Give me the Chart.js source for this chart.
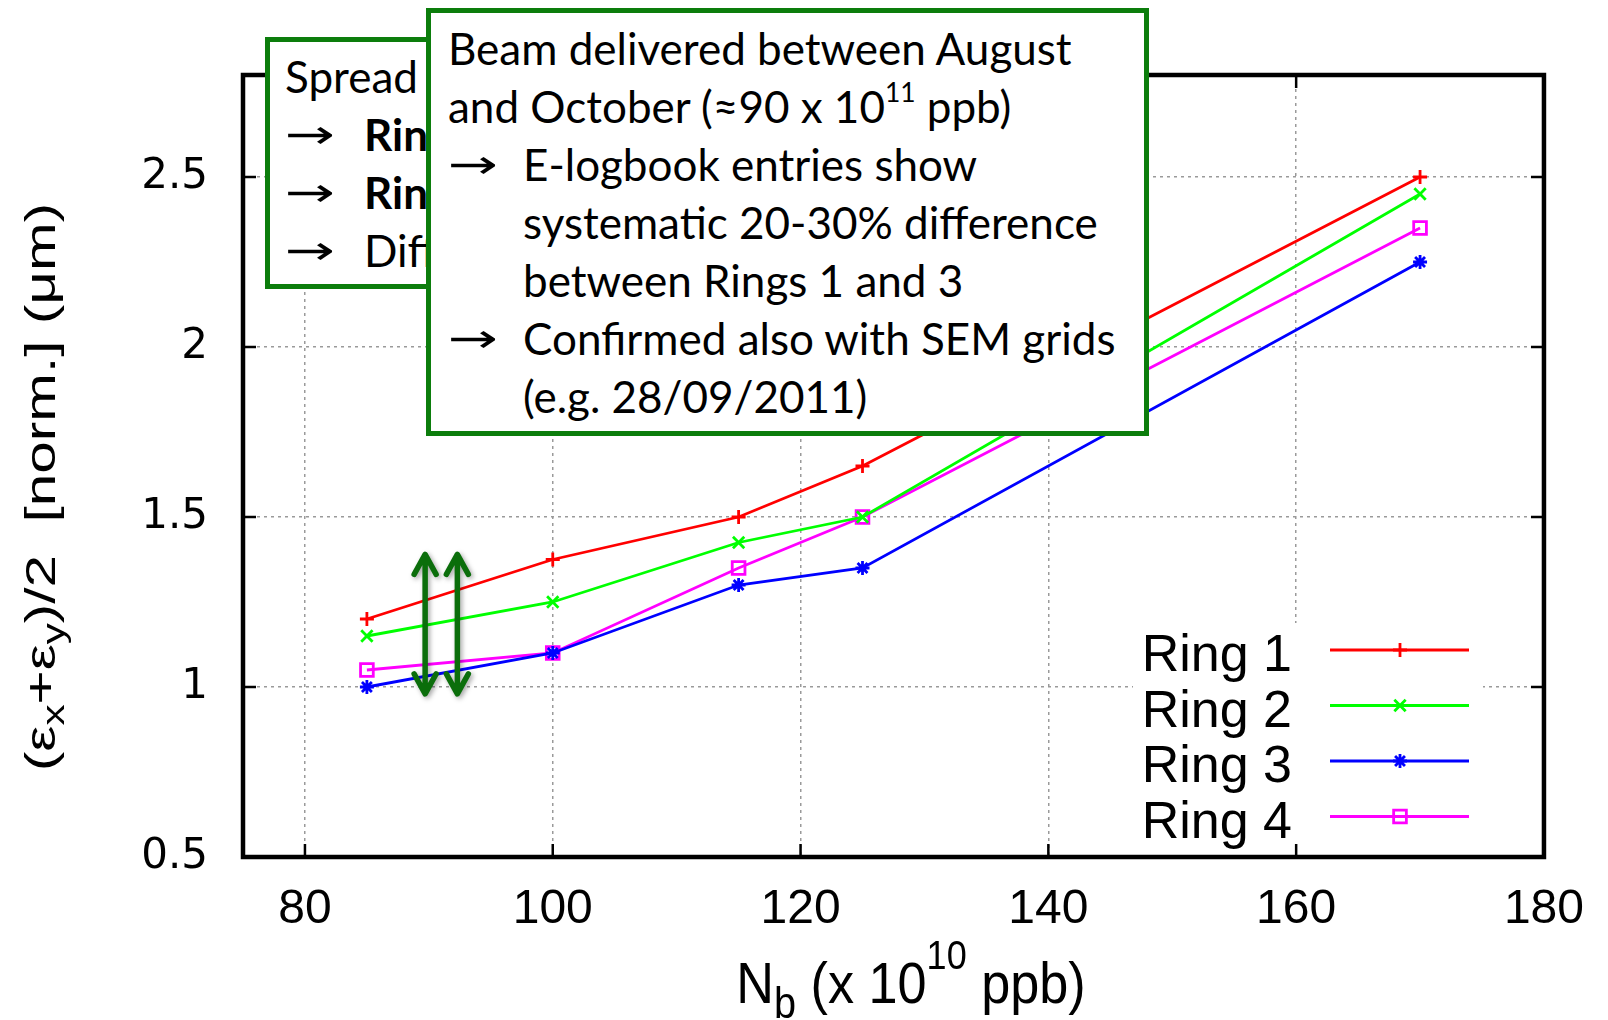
<!DOCTYPE html>
<html>
<head>
<meta charset="utf-8">
<script src="https://cdn.jsdelivr.net/npm/chart.js@4.4.1/dist/chart.umd.min.js"></script>
<style>
  html, body { margin: 0; padding: 0; background: #fff; }
  #wrap { position: relative; width: 1608px; height: 1020px; overflow: hidden; }
  #chart { position: absolute; left: 0; top: 0; }
  .note {
    position: absolute; background: #fff; border: 5px solid #0c7d0c; box-sizing: border-box;
    font-family: Lato, "Open Sans", sans-serif; font-size: 44px; line-height: 58px;
    color: #000; overflow: hidden; white-space: nowrap;
  }
  .note .item { position: relative; }
  .note .arr {
    position: absolute; left: 0; top: 0; font-family: "DejaVu Sans", sans-serif; font-weight: normal;
    font-size: 40px; display: inline-block; transform: scaleX(1.5); transform-origin: 0 50%;
  }
  .note sup { font-size: 0.6em; line-height: 0; vertical-align: 0.8em; }
  #note1 { left: 265px; top: 37px; width: 220px; height: 252px; padding: 5px 0 0 15px; }
  #note1 .item { padding-left: 79px; }
  #note2 { left: 426px; top: 8px; width: 723px; height: 428px; padding: 6px 0 0 17px; }
  #note2 .item { padding-left: 75px; }
</style>
</head>
<body>
<div id="wrap">
  <canvas id="chart" width="1608" height="1020"></canvas>
  <div class="note" id="note1">
    <div>Spread</div>
    <div class="item"><span class="arr">→</span><b>Ring</b></div>
    <div class="item"><span class="arr">→</span><b>Ring</b></div>
    <div class="item"><span class="arr">→</span>Diff</div>
  </div>
  <div class="note" id="note2">
    <div>Beam delivered between August</div>
    <div>and October (≈90 x 10<sup>11</sup> ppb)</div>
    <div class="item"><span class="arr">→</span>E-logbook entries show<br>systematic 20-30% difference<br>between Rings 1 and 3</div>
    <div class="item"><span class="arr">→</span>Confirmed also with SEM grids<br>(e.g. 28/09/2011)</div>
  </div>
</div>
<script>
// bunch intensity (x 10^10 ppb)
const intensity = [85, 100, 115, 125, 170];
// (eps_x + eps_y)/2 normalised, um
const ring1 = [1.2, 1.375, 1.5, 1.65, 2.5];
const ring2 = [1.15, 1.25, 1.425, 1.5, 2.45];
const ring3 = [1.0, 1.1, 1.3, 1.35, 2.25];
const ring4 = [1.05, 1.1, 1.35, 1.5, 2.35];
const ringNames = ['Ring 1', 'Ring 2', 'Ring 3', 'Ring 4'];
const xTicks = [80, 100, 120, 140, 160, 180];
const yTicks = [0.5, 1, 1.5, 2, 2.5];
// spread arrows drawn at ~90e10 ppb
const arrowX = [89.7, 92.3];
const arrowY = [0.98, 1.39];

const colors = ['#ff0000', '#00ff00', '#0000ff', '#ff00ff'];
const markers = ['cross', 'crossRot', 'star', 'rect'];
const markerSize = [7, 8, 7, 9];

const series = [ring1, ring2, ring3, ring4];
const datasets = series.map((vals, i) => ({
  label: ringNames[i],
  data: intensity.map((x, j) => ({ x: x, y: vals[j] })),
  borderColor: colors[i],
  backgroundColor: colors[i],
  borderWidth: 2.8,
  pointStyle: markers[i],
  pointRadius: markerSize[i],
  pointBorderColor: colors[i],
  pointBackgroundColor: 'rgba(0,0,0,0)',
  pointBorderWidth: 2.8,
  tension: 0
}));

const frameAndTicks = {
  id: 'frameAndTicks',
  afterDraw(chart) {
    const { ctx, chartArea: a, scales: { x, y } } = chart;
    ctx.save();
    ctx.strokeStyle = '#000';
    ctx.lineWidth = 2.5;
    xTicks.forEach(v => {
      const px = x.getPixelForValue(v);
      ctx.beginPath();
      ctx.moveTo(px, a.bottom); ctx.lineTo(px, a.bottom - 13);
      ctx.moveTo(px, a.top); ctx.lineTo(px, a.top + 13);
      ctx.stroke();
    });
    yTicks.forEach(v => {
      const py = y.getPixelForValue(v);
      ctx.beginPath();
      ctx.moveTo(a.left, py); ctx.lineTo(a.left + 13, py);
      ctx.moveTo(a.right, py); ctx.lineTo(a.right - 13, py);
      ctx.stroke();
    });
    ctx.lineWidth = 4.5;
    ctx.strokeRect(a.left, a.top, a.width, a.height);
    ctx.restore();
  }
};

const spreadArrows = {
  id: 'spreadArrows',
  afterDatasetsDraw(chart) {
    const { ctx, scales: { x, y } } = chart;
    ctx.save();
    ctx.strokeStyle = '#0b6e0b';
    ctx.lineWidth = 5.5;
    ctx.lineCap = 'round';
    ctx.lineJoin = 'round';
    ctx.shadowColor = 'rgba(0,0,0,0.35)';
    ctx.shadowBlur = 5;
    ctx.shadowOffsetX = 2;
    ctx.shadowOffsetY = 2;
    arrowX.forEach(v => {
      const cx = x.getPixelForValue(v);
      const top = y.getPixelForValue(arrowY[1]);
      const bot = y.getPixelForValue(arrowY[0]);
      ctx.beginPath();
      ctx.moveTo(cx, top + 2); ctx.lineTo(cx, bot - 2);
      ctx.moveTo(cx - 11, top + 20); ctx.lineTo(cx, top); ctx.lineTo(cx + 11, top + 20);
      ctx.moveTo(cx - 11, bot - 20); ctx.lineTo(cx, bot); ctx.lineTo(cx + 11, bot - 20);
      ctx.stroke();
    });
    ctx.restore();
  }
};

const keyBox = {
  id: 'keyBox',
  afterDatasetsDraw(chart) {
    const ctx = chart.ctx;
    ctx.save();
    ctx.fillStyle = '#fff';
    ctx.fillRect(1133, 623, 350, 226);
    ctx.font = '52px "Liberation Sans", Arial, sans-serif';
    ctx.textAlign = 'right';
    ctx.textBaseline = 'alphabetic';
    chart.data.datasets.forEach((ds, i) => {
      const ly = 650 + i * 55.5;
      ctx.fillStyle = '#000';
      ctx.fillText(ds.label, 1292, ly + 21);
      ctx.strokeStyle = ds.borderColor;
      ctx.lineWidth = 2.8;
      ctx.beginPath();
      ctx.moveTo(1330, ly); ctx.lineTo(1469, ly);
      ctx.stroke();
      ctx.fillStyle = 'rgba(0,0,0,0)';
      Chart.helpers.drawPoint(ctx, {
        pointStyle: ds.pointStyle, radius: ds.pointRadius, borderWidth: ds.pointBorderWidth, rotation: 0
      }, 1400, ly);
    });
    ctx.restore();
  }
};

function drawRuns(ctx, runs) {
  let cx = 0;
  runs.forEach(r => {
    ctx.font = r.size + 'px "Liberation Sans", Arial, sans-serif';
    ctx.fillText(r.t, cx, r.dy || 0);
    cx += ctx.measureText(r.t).width;
  });
  return cx;
}
function runsWidth(ctx, runs) {
  let w = 0;
  runs.forEach(r => {
    ctx.font = r.size + 'px "Liberation Sans", Arial, sans-serif';
    w += ctx.measureText(r.t).width;
  });
  return w;
}

const axisTitles = {
  id: 'axisTitles',
  afterDraw(chart) {
    const ctx = chart.ctx;
    ctx.save();
    ctx.fillStyle = '#000';
    ctx.textAlign = 'left';
    ctx.textBaseline = 'alphabetic';
    // x title: N_b (x 10^10 ppb)
    const xr = [
      { t: 'N', size: 58 }, { t: 'b', size: 44, dy: 15 },
      { t: ' (x 10', size: 58 }, { t: '10', size: 40, dy: -34 }, { t: ' ppb)', size: 58 }
    ];
    const sx = 0.9;
    const wx = runsWidth(ctx, xr) * sx;
    ctx.save();
    ctx.translate(911 - wx / 2, 1003);
    ctx.scale(sx, 1);
    drawRuns(ctx, xr);
    ctx.restore();
    // y title
    const yr = [
      { t: '(\u03b5', size: 43 }, { t: 'x', size: 31, dy: 9 },
      { t: '+\u03b5', size: 43 }, { t: 'y', size: 31, dy: 9 },
      { t: ')/2  [norm.] (\u03bcm)', size: 43 }
    ];
    const sy = 1.36;
    const wy = runsWidth(ctx, yr) * sy;
    ctx.save();
    ctx.translate(55, 487 + wy / 2);
    ctx.rotate(-Math.PI / 2);
    ctx.scale(sy, 1);
    drawRuns(ctx, yr);
    ctx.restore();
    ctx.restore();
  }
};

new Chart(document.getElementById('chart').getContext('2d'), {
  type: 'line',
  data: { datasets: datasets },
  options: {
    responsive: false,
    animation: false,
    layout: { padding: { top: 75, right: 63, left: 0, bottom: 0 } },
    plugins: { legend: { display: false }, tooltip: { enabled: false } },
    scales: {
      x: {
        type: 'linear', min: 75, max: 180,
        afterBuildTicks: s => { s.ticks = xTicks.map(v => ({ value: v })); },
        afterFit: s => { s.height = 163; },
        grid: { color: '#9a9a9a', lineWidth: 1.5, drawTicks: false },
        border: { display: false, dash: [3, 4] },
        ticks: { color: '#000', font: { family: 'Liberation Sans', size: 48 }, padding: 24, maxRotation: 0 }
      },
      y: {
        type: 'linear', min: 0.5, max: 2.8,
        afterBuildTicks: s => { s.ticks = yTicks.map(v => ({ value: v })); },
        afterFit: s => { s.width = 243; },
        grid: { color: '#9a9a9a', lineWidth: 1.5, drawTicks: false },
        border: { display: false, dash: [3, 4] },
        ticks: { color: '#000', font: { family: 'DejaVu Sans', size: 42 }, padding: 35, callback: v => String(v) }
      }
    }
  },
  plugins: [spreadArrows, keyBox, frameAndTicks, axisTitles]
});
</script>
</body>
</html>
